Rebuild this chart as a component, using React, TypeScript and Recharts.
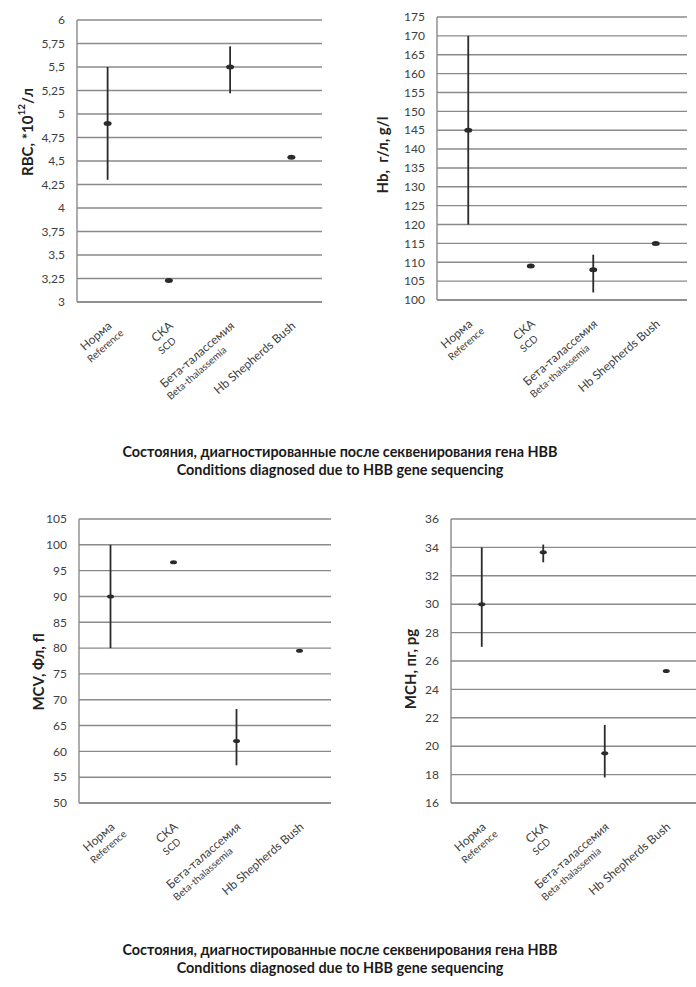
import { CartesianGrid, ComposedChart, ErrorBar, Line, XAxis, YAxis } from "recharts";

const FONT = "Lato, 'Open Sans', sans-serif";
const TEXT = "#404040";
const GRID = "#8a8a8a";
const MARK = "#2b2b2b";

const categories = ["Норма", "СКА", "Бета-талассемия", "Hb Shepherds Bush"];
const categoriesEn = ["Reference", "SCD", "Beta-thalassemia", ""];

const rbcMean = [4.9, 3.23, 5.5, 4.54];
const rbcLow = [4.3, null, 5.22, null];
const rbcHigh = [5.5, null, 5.72, null];
const rbcTicks = [3, 3.25, 3.5, 3.75, 4, 4.25, 4.5, 4.75, 5, 5.25, 5.5, 5.75, 6];

const hbMean = [145, 109, 108, 115];
const hbLow = [120, null, 102, null];
const hbHigh = [170, null, 112, null];
const hbTicks = [100, 105, 110, 115, 120, 125, 130, 135, 140, 145, 150, 155, 160, 165, 170, 175];

const mcvMean = [90, 96.6, 62, 79.5];
const mcvLow = [80, null, 57.3, null];
const mcvHigh = [100, null, 68.2, null];
const mcvTicks = [50, 55, 60, 65, 70, 75, 80, 85, 90, 95, 100, 105];

const mchMean = [30, 33.65, 19.5, 25.3];
const mchLow = [27, 32.95, 17.8, null];
const mchHigh = [34, 34.2, 21.5, null];
const mchTicks = [16, 18, 20, 22, 24, 26, 28, 30, 32, 34, 36];

type Range = (number | null)[];

function buildRows(mean: number[], low: Range, high: Range) {
  return categories.map((name, i) => ({
    name,
    value: mean[i],
    err: [low[i] == null ? 0 : mean[i] - (low[i] as number), high[i] == null ? 0 : (high[i] as number) - mean[i]],
  }));
}

let ctx: CanvasRenderingContext2D | null = null;
function textWidth(s: string, font: string) {
  if (!ctx) ctx = document.createElement("canvas").getContext("2d");
  if (!ctx) return s.length * 6;
  ctx.font = font;
  return ctx.measureText(s).width;
}

function CategoryTick(props: any) {
  const { x, y, payload, index } = props;
  const top = String(payload.value);
  const sub = categoriesEn[index] ?? "";
  const w1 = textWidth(top, `12px ${FONT}`);
  return (
    <g transform={`translate(${x + 5},${y + 17}) rotate(-41)`}>
      <text x={0} y={0} textAnchor="end" fontSize={12} fill={TEXT} fontFamily={FONT}>
        {top}
      </text>
      {sub && (
        <text x={-w1 - 3} y={13} textAnchor="start" fontSize={10} fill={TEXT} fontFamily={FONT}>
          {sub}
        </text>
      )}
    </g>
  );
}

const fmt = (v: number) => String(v).replace(".", ",");

interface PanelProps {
  left: number;
  top: number;
  width: number;
  height: number;
  margin: { top: number; right: number; left: number; bottom: number };
  yWidth: number;
  xHeight: number;
  domain: [number, number];
  ticks: number[];
  rows: ReturnType<typeof buildRows>;
  title: React.ReactNode;
  titleX: number;
  titleY: number;
  rx: number;
  ry: number;
}

function Panel(p: PanelProps) {
  // point scale: half a slot of padding on each side puts marks in the slot centres
  const plotWidth = p.width - p.margin.left - p.margin.right - p.yWidth;
  const pad = plotWidth / (categories.length * 2);
  return (
    <div style={{ position: "absolute", left: p.left, top: p.top, width: p.width, height: p.height }}>
      <ComposedChart width={p.width} height={p.height} data={p.rows} margin={p.margin}>
        <CartesianGrid vertical={false} stroke={GRID} strokeWidth={1.4} />
        <XAxis
          dataKey="name"
          type="category"
          interval={0}
          height={p.xHeight}
          padding={{ left: pad, right: pad }}
          tickLine={false}
          axisLine={{ stroke: GRID, strokeWidth: 1.4 }}
          tick={<CategoryTick />}
        />
        <YAxis
          type="number"
          domain={p.domain}
          ticks={p.ticks}
          interval={0}
          width={p.yWidth}
          tickLine={false}
          tickMargin={6}
          axisLine={{ stroke: GRID, strokeWidth: 1.4 }}
          tickFormatter={fmt}
          tick={{ fontSize: 12, fill: TEXT, fontFamily: FONT }}
        />
        <Line
          dataKey="value"
          stroke="none"
          isAnimationActive={false}
          activeDot={false}
          dot={(d: any) => (
            <ellipse key={`dot-${d.index}`} cx={d.cx} cy={d.cy} rx={p.rx} ry={p.ry} fill={MARK} />
          )}
        >
          <ErrorBar dataKey="err" direction="y" width={0} stroke={MARK} strokeWidth={1.8} isAnimationActive={false} />
        </Line>
      </ComposedChart>
      <svg
        width={p.width}
        height={p.height}
        style={{ position: "absolute", left: 0, top: 0, pointerEvents: "none" }}
      >
        <text
          transform={`translate(${p.titleX},${p.titleY}) rotate(-90)`}
          textAnchor="middle"
          dominantBaseline="central"
          fontSize={15}
          fontWeight={700}
          fill="#222"
          fontFamily={FONT}
          style={{ whiteSpace: "pre" }}
        >
          {p.title}
        </text>
      </svg>
    </div>
  );
}

const caption = (
  <>
    <div>Состояния, диагностированные после секвенирования гена HBB</div>
    <div>Conditions diagnosed due to HBB gene sequencing</div>
  </>
);

const captionStyle: React.CSSProperties = {
  position: "absolute",
  left: 0,
  width: 680,
  textAlign: "center",
  fontFamily: FONT,
  fontWeight: 700,
  fontSize: 14.4,
  lineHeight: "18px",
  color: "#1a1a1a",
};

export default function App() {
  return (
    <div
      style={{
        position: "absolute",
        left: 0,
        top: 0,
        width: 696,
        height: 987,
        overflow: "hidden",
        background: "#fff",
      }}
    >
      <Panel
        left={0}
        top={0}
        width={330}
        height={440}
        margin={{ top: 20, right: 8, left: 0, bottom: 0 }}
        yWidth={77}
        xHeight={138}
        domain={[3, 6]}
        ticks={rbcTicks}
        rows={buildRows(rbcMean, rbcLow, rbcHigh)}
        title={
          <>
            RBC, *10
            <tspan dy={-6} fontSize={10}>
              12
            </tspan>
            <tspan dy={6}>/л</tspan>
          </>
        }
        titleX={27}
        titleY={132}
        rx={4}
        ry={2.5}
      />
      <Panel
        left={340}
        top={0}
        width={356}
        height={440}
        margin={{ top: 17, right: 9, left: 0, bottom: 0 }}
        yWidth={97}
        xHeight={140}
        domain={[100, 175]}
        ticks={hbTicks}
        rows={buildRows(hbMean, hbLow, hbHigh)}
        title={"Hb,\u00a0\u00a0г/л, g/l"}
        titleX={42}
        titleY={155}
        rx={4}
        ry={2.5}
      />
      <div style={{ ...captionStyle, top: 443 }}>{caption}</div>
      <Panel
        left={0}
        top={490}
        width={340}
        height={450}
        margin={{ top: 29, right: 9, left: 0, bottom: 0 }}
        yWidth={79}
        xHeight={137}
        domain={[50, 105]}
        ticks={mcvTicks}
        rows={buildRows(mcvMean, mcvLow, mcvHigh)}
        title="MCV, Фл, fl"
        titleX={38}
        titleY={182}
        rx={3.5}
        ry={2}
      />
      <Panel
        left={340}
        top={490}
        width={357}
        height={450}
        margin={{ top: 29, right: 0, left: 0, bottom: 0 }}
        yWidth={111}
        xHeight={137}
        domain={[16, 36]}
        ticks={mchTicks}
        rows={buildRows(mchMean, mchLow, mchHigh)}
        title="MCH, пг, pg"
        titleX={70}
        titleY={179}
        rx={3.5}
        ry={2}
      />
      <div style={{ ...captionStyle, top: 941 }}>{caption}</div>
    </div>
  );
}
